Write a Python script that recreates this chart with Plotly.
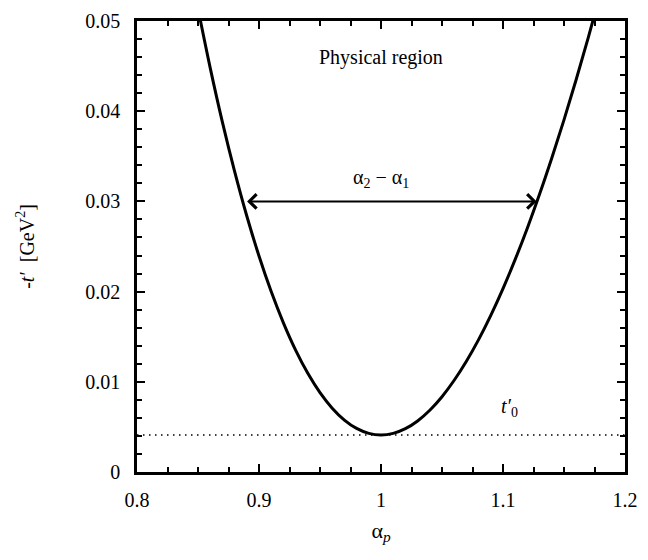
import plotly.graph_objects as go

# curve: alpha_p vs -t' (GeV^2)
alpha = [0.85, 0.86, 0.87, 0.88, 0.89, 0.90, 0.91, 0.92, 0.93, 0.94, 0.95, 0.96,
         0.97, 0.98, 0.99, 1.00, 1.01, 1.02, 1.03, 1.04, 1.05, 1.06, 1.07, 1.08,
         1.09, 1.10, 1.11, 1.12, 1.13, 1.14, 1.15, 1.16, 1.17, 1.18]
minus_t = [0.05138, 0.04481, 0.03879, 0.03333, 0.02838, 0.02394, 0.02000, 0.01653,
           0.01351, 0.01094, 0.00880, 0.00708, 0.00576, 0.00483, 0.00428, 0.00410,
           0.00428, 0.00480, 0.00566, 0.00685, 0.00835, 0.01017, 0.01228, 0.01468,
           0.01737, 0.02034, 0.02357, 0.02706, 0.03081, 0.03481, 0.03904, 0.04352,
           0.04822, 0.05314]

t0_prime = 0.0041
arrow_alpha = [0.889, 1.1276]   # alpha_1, alpha_2
arrow_t = 0.030

x_tickvals = [0.8, 0.9, 1.0, 1.1, 1.2]
x_ticktext = ["0.8", "0.9", "1", "1.1", "1.2"]
y_tickvals = [0, 0.01, 0.02, 0.03, 0.04, 0.05]
y_ticktext = ["0", "0.01", "0.02", "0.03", "0.04", "0.05"]

FONT = "Liberation Serif, Times New Roman, serif"

fig = go.Figure()
fig.add_trace(go.Scatter(x=alpha, y=minus_t, mode="lines",
                         line=dict(color="black", width=3, shape="spline"),
                         showlegend=False, hoverinfo="skip"))

fig.add_shape(type="line", xref="paper", x0=0, x1=1, yref="y", y0=t0_prime, y1=t0_prime,
              line=dict(color="black", width=1.3, dash="1.5px,4.5px"))

fig.add_annotation(x=arrow_alpha[1], y=arrow_t, ax=arrow_alpha[0], ay=arrow_t,
                   xref="x", yref="y", axref="x", ayref="y", text="",
                   showarrow=True, arrowhead=4, arrowsize=1.4, arrowwidth=2,
                   arrowside="end+start", startarrowhead=4, startarrowsize=1.4,
                   arrowcolor="black", standoff=0, startstandoff=0)

fig.add_annotation(x=1.0, y=0.0325, text="α<sub>2</sub> − α<sub>1</sub>", showarrow=False,
                   font=dict(size=20, family=FONT, color="black"))
fig.add_annotation(x=1.0, y=0.046, text="Physical region", showarrow=False,
                   font=dict(size=20, family=FONT, color="black"))
fig.add_annotation(x=1.1057, y=0.0071, text="<i>t′</i><sub>0</sub>", showarrow=False,
                   font=dict(size=20, family=FONT, color="black"))

axis_common = dict(showline=True, linecolor="black", linewidth=2.5, mirror="allticks",
                   ticks="inside", ticklen=8, tickwidth=2, tickcolor="black",
                   showgrid=False, zeroline=False, ticklabeloverflow="allow",
                   tickfont=dict(size=20, family=FONT, color="black"))

fig.update_xaxes(range=[0.8, 1.2], tickvals=x_tickvals, ticktext=x_ticktext,
                 minor=dict(dtick=0.025, tick0=0.8, ticks="inside", ticklen=5,
                            tickwidth=2, tickcolor="black"),
                 ticklabelstandoff=8,
                 title=dict(text="α<sub><i>p</i></sub>", font=dict(size=22, family=FONT, color="black"),
                            standoff=13),
                 **axis_common)
fig.update_yaxes(range=[0, 0.05], tickvals=y_tickvals, ticktext=y_ticktext,
                 minor=dict(dtick=0.002, tick0=0, ticks="inside", ticklen=5,
                            tickwidth=2, tickcolor="black"),
                 ticklabelstandoff=10,
                 title=dict(text="-<i>t′</i>  [GeV<sup>2</sup>]",
                            font=dict(size=20, family=FONT, color="black"), standoff=46),
                 **axis_common)

fig.update_layout(width=648, height=560, plot_bgcolor="white", paper_bgcolor="white",
                  margin=dict(l=137, r=19, t=10, b=88),
                  font=dict(family=FONT, color="black"))

# remove the default 8px page margin so the figure fills the window exactly
fig.write_html("out.html", config={"displayModeBar": False},
               post_script="document.body.style.margin='0';")
